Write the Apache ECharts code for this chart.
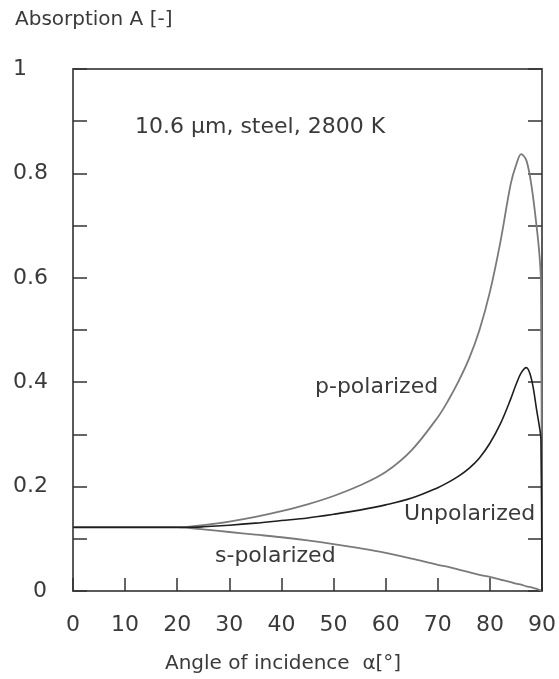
<!DOCTYPE html>
<html>
<head>
<meta charset="utf-8">
<script src="https://cdn.jsdelivr.net/npm/echarts@6/dist/echarts.min.js"></script>
<style>
  html, body { margin: 0; padding: 0; background: #fff; }
  #chart { width: 559px; height: 679px; }
</style>
</head>
<body>
<div id="chart"></div>
<script>
// angle of incidence, degrees
var angles = [0, 10, 20, 22, 25, 30, 35, 40, 45, 50, 55, 60, 65, 70, 72, 74, 76, 78, 80, 82, 84, 85, 86, 87, 88, 89, 89.5, 89.8, 90];
// absorption
var pPolarized = [0.122, 0.122, 0.122, 0.123, 0.126, 0.133, 0.142, 0.153, 0.166, 0.182, 0.202, 0.228, 0.27, 0.333, 0.365, 0.402, 0.445, 0.5, 0.573, 0.668, 0.78, 0.815, 0.837, 0.825, 0.775, 0.695, 0.645, 0.59, 0];
var unpolarized = [0.122, 0.122, 0.122, 0.122, 0.123, 0.126, 0.130, 0.135, 0.140, 0.147, 0.155, 0.165, 0.178, 0.198, 0.208, 0.22, 0.235, 0.255, 0.283, 0.32, 0.368, 0.395, 0.418, 0.428, 0.405, 0.345, 0.315, 0.29, 0];
var sPolarized = [0.122, 0.122, 0.122, 0.121, 0.118, 0.113, 0.108, 0.103, 0.097, 0.09, 0.082, 0.073, 0.062, 0.05, 0.046, 0.041, 0.036, 0.031, 0.027, 0.022, 0.017, 0.014, 0.012, 0.009, 0.007, 0.004, 0.002, 0.001, 0];

var xTicks = [0, 10, 20, 30, 40, 50, 60, 70, 80, 90];
var yLabels = ['0', '0.2', '0.4', '0.6', '0.8', '1'];

var font = 'DejaVu Sans';
var frameColor = '#5a5a5a';
var textColor = '#3a3a3a';

function pairs(ys) {
  return angles.map(function (a, i) { return [a, ys[i]]; });
}

var chart = echarts.init(document.getElementById('chart'));

var option = {
  backgroundColor: '#fff',
  animation: false,
  grid: { left: 73, right: 16, top: 69, bottom: 88 },
  xAxis: [
    {
      type: 'value',
      min: xTicks[0],
      max: xTicks[xTicks.length - 1],
      interval: 10,
      axisLine: { show: true, onZero: false, lineStyle: { color: frameColor, width: 2 } },
      axisTick: { show: true, inside: true, length: 13, lineStyle: { color: '#333', width: 1.5 } },
      axisLabel: { margin: 23, color: textColor, fontFamily: font, fontSize: 22 },
      splitLine: { show: false }
    },
    {
      type: 'value',
      position: 'top',
      min: 0,
      max: 90,
      axisLine: { show: true, onZero: false, lineStyle: { color: frameColor, width: 2 } },
      axisTick: { show: false },
      axisLabel: { show: false },
      splitLine: { show: false }
    }
  ],
  yAxis: [
    {
      type: 'value',
      min: 0,
      max: 1,
      interval: 0.1,
      axisLine: { show: true, onZero: false, lineStyle: { color: frameColor, width: 2 } },
      axisTick: { show: true, inside: true, length: 14, lineStyle: { color: '#333', width: 1.5 } },
      axisLabel: {
        margin: 60,
        align: 'left',
        color: textColor,
        fontFamily: font,
        fontSize: 22,
        formatter: function (v) {
          var k = Math.round(v * 10);
          if (k % 2 !== 0) return '';
          var s = yLabels[k / 2];
          if (s === '0') return '{z|0}';
          return s;
        },
        rich: {
          z: { padding: [0, 0, 0, 20], color: textColor, fontFamily: font, fontSize: 22 }
        }
      },
      splitLine: { show: false }
    },
    {
      type: 'value',
      position: 'right',
      min: 0,
      max: 1,
      interval: 0.1,
      axisLine: { show: true, onZero: false, lineStyle: { color: frameColor, width: 2 } },
      axisTick: { show: true, inside: true, length: 14, lineStyle: { color: '#333', width: 1.5 } },
      axisLabel: { show: false },
      splitLine: { show: false }
    }
  ],
  series: [
    {
      name: 's-polarized',
      type: 'line',
      data: pairs(sPolarized),
      showSymbol: false,
      smooth: 0.35,
      lineStyle: { color: '#7a7a7a', width: 1.8 }
    },
    {
      name: 'p-polarized',
      type: 'line',
      data: pairs(pPolarized),
      showSymbol: false,
      smooth: 0.35,
      lineStyle: { color: '#7a7a7a', width: 1.8 }
    },
    {
      name: 'Unpolarized',
      type: 'line',
      data: pairs(unpolarized),
      showSymbol: false,
      smooth: 0.35,
      lineStyle: { color: '#1e1e1e', width: 1.6 }
    }
  ],
  graphic: [
    { type: 'text', left: 15, top: 10, style: { text: 'Absorption A [-]', font: '20px "DejaVu Sans"', fill: textColor } },
    { type: 'text', left: 135, top: 116, style: { text: '10.6 µm, steel, 2800 K', font: '22px "DejaVu Sans"', fill: textColor } },
    { type: 'text', left: 315, top: 376, style: { text: 'p-polarized', font: '22px "DejaVu Sans"', fill: textColor } },
    { type: 'text', left: 404, top: 503, style: { text: 'Unpolarized', font: '22px "DejaVu Sans"', fill: textColor } },
    { type: 'text', left: 215, top: 545, style: { text: 's-polarized', font: '22px "DejaVu Sans"', fill: textColor } },
    { type: 'text', left: 165, top: 654, style: { text: 'Angle of incidence  α[°]', font: '20px "DejaVu Sans"', fill: textColor } }
  ]
};

chart.setOption(option);
</script>
</body>
</html>
